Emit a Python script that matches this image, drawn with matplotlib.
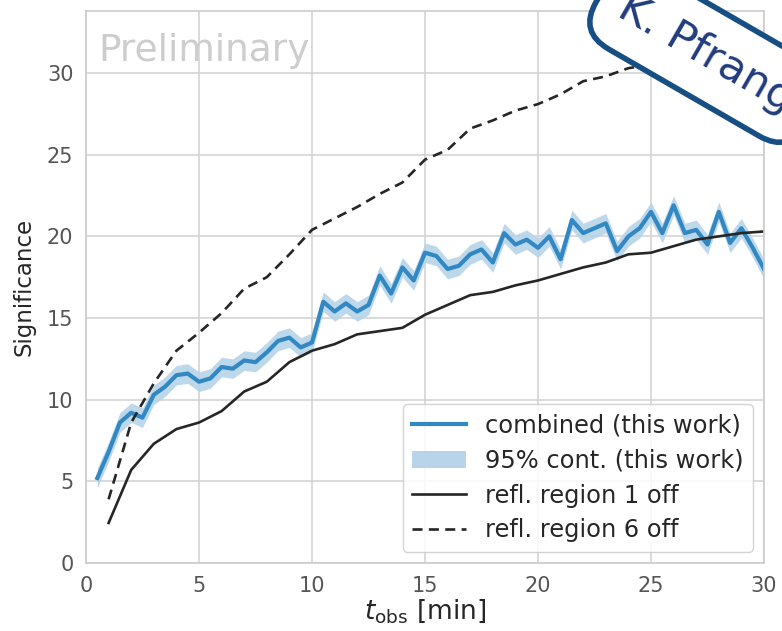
import numpy as np
import matplotlib
matplotlib.use("Agg")
import matplotlib.pyplot as plt
from matplotlib.lines import Line2D
from matplotlib.patches import Patch

# combined significance, read every 0.5 min
t_comb = np.arange(1, 61) * 0.5
sig_comb = [5.2, 6.8, 8.6, 9.2, 8.9, 10.3, 10.8, 11.5, 11.6, 11.1,
            11.3, 12.0, 11.9, 12.4, 12.3, 12.9, 13.6, 13.8, 13.2, 13.5,
            16.0, 15.4, 15.9, 15.4, 15.8, 17.6, 16.5, 18.1, 17.3, 19.0,
            18.8, 18.0, 18.2, 18.9, 19.2, 18.4, 20.2, 19.5, 19.8, 19.3,
            20.0, 18.6, 21.0, 20.2, 20.5, 20.8, 19.1, 20.0, 20.5, 21.5,
            20.2, 21.9, 20.2, 20.4, 19.5, 21.5, 19.6, 20.5, 19.3, 18.0]
band_halfwidth = 0.6

# reflected region curves, every minute
t_refl = np.arange(1, 31)
sig_refl1 = [2.45, 5.7, 7.3, 8.2, 8.6, 9.3, 10.5, 11.1, 12.3, 13.0,
             13.4, 14.0, 14.2, 14.4, 15.2, 15.8, 16.4, 16.6, 17.0, 17.3,
             17.7, 18.1, 18.4, 18.9, 19.0, 19.4, 19.8, 20.0, 20.2, 20.3]
sig_refl6 = [3.9, 8.6, 11.0, 13.0, 14.1, 15.3, 16.8, 17.5, 18.9, 20.4,
             21.1, 21.8, 22.6, 23.3, 24.7, 25.3, 26.6, 27.1, 27.7, 28.1,
             28.7, 29.5, 29.8, 30.3, 30.5, 30.9, 31.3, 31.7, 32.0, 32.3]

blue = "#3288c3"
band_col = "#b7d4e9"
grid_col = "#d4d4d4"
dark = "#262626"
dash = (0, (3.8, 2.4))

plt.rcParams["font.family"] = "DejaVu Sans"
fig = plt.figure(figsize=(7.82, 6.31), dpi=100)
ax = fig.add_axes([86 / 782, 1 - 563 / 631, 678 / 782, 552 / 631])

sig_comb = np.array(sig_comb)
ax.fill_between(t_comb, sig_comb - band_halfwidth, sig_comb + band_halfwidth,
                color=band_col, lw=0, alpha=0.9)
ax.plot(t_comb, sig_comb, color=blue, lw=3.0)
ax.plot(t_refl, sig_refl1, color=dark, lw=1.9)
ax.plot(t_refl, sig_refl6, color=dark, lw=1.9, ls=dash)

ax.set_xlim(0, 30)
ax.set_ylim(0, 33.8)
ax.set_xticks([0, 5, 10, 15, 20, 25, 30])
ax.set_yticks([0, 5, 10, 15, 20, 25, 30])
ax.grid(True, color=grid_col, lw=1.2)
ax.set_axisbelow(True)
for s in ax.spines.values():
    s.set_color("#cccccc")
    s.set_linewidth(1.2)
ax.tick_params(length=0, labelsize=15, labelcolor="#555555", pad=9)

ax.set_xlabel(r"$t_{\rm obs}$ [min]", fontsize=19, color=dark, labelpad=1)
ax.set_ylabel("Significance", fontsize=16.5, color=dark, labelpad=8)

ax.text(0.018, 0.91, "Preliminary", transform=ax.transAxes, fontsize=27,
        color="#cdcdcd", va="baseline", ha="left")

handles = [Line2D([], [], color=blue, lw=3.0),
           Patch(facecolor=band_col, edgecolor="none"),
           Line2D([], [], color=dark, lw=1.9),
           Line2D([], [], color=dark, lw=1.9, ls=dash)]
labels = ["combined (this work)", "95% cont. (this work)",
          "refl. region 1 off", "refl. region 6 off"]
leg = ax.legend(handles, labels, loc="lower right", fontsize=17.4,
                handlelength=2.2, handletextpad=0.8, labelspacing=0.45,
                framealpha=0.85, edgecolor="#cccccc", borderaxespad=0.45,
                borderpad=0.4)
for txt in leg.get_texts():
    txt.set_color(dark)

fig.text(0.795, 0.992, "K. Pfrang", fontsize=31, color="#203c7c",
         rotation=-30, rotation_mode="anchor", ha="left", va="center",
         bbox=dict(boxstyle="round,pad=0.55,rounding_size=0.8",
                   facecolor="white", edgecolor="#174f85", lw=4))

fig.savefig("out.png", dpi=100)
